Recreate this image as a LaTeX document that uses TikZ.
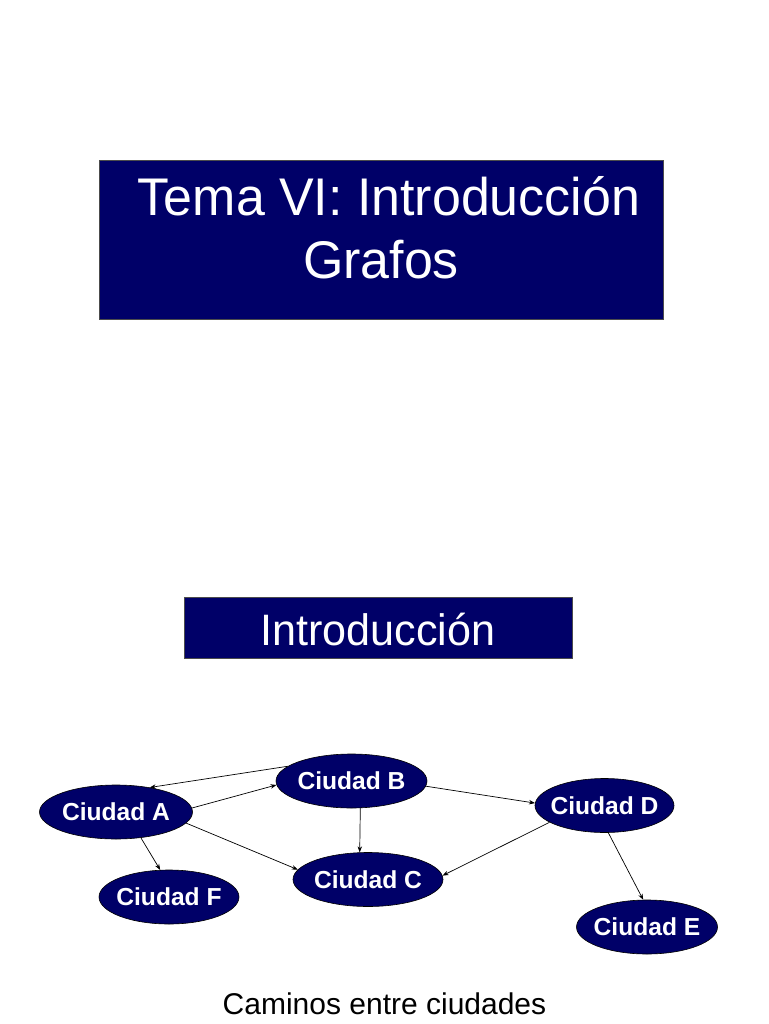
\documentclass[tikz,border=0pt]{standalone}
\usepackage{fontspec}
\setmainfont{Liberation Sans}
\newfontfamily\titlefont[FakeStretch=0.98]{Liberation Sans}
\usetikzlibrary{shapes.geometric, positioning, arrows.meta}
\definecolor{navy}{RGB}{0,0,104}
\tikzset{
    >={Stealth[length=6pt, width=4.5pt]}, % small sharp arrow heads
    banner/.style={draw=black!70, line width=0.6pt, fill=navy, inner sep=0pt},
    bannertext/.style={text=white, anchor=base, inner sep=0pt, font=\titlefont},
    ciudad/.style={ellipse, draw=black, line width=0.6pt, fill=navy, text=white, inner xsep=-6pt, inner ysep=0pt,
        minimum height=54pt, font=\bfseries\fontsize{24.6}{28}\selectfont},
    camino/.style={->, line width=0.7pt},
}
\begin{document}
\begin{tikzpicture}[x=1pt, y=-1pt]
    \useasboundingbox (0,0) rectangle (768,1024);
    % title slide
    \node[banner, minimum width=564pt, minimum height=159pt] (tema) at (381,239.5) {};
    \node[bannertext, font=\titlefont\fontsize{53}{60}\selectfont] (linea1) at (389,215) {Tema VI: Introducción};
    \node[bannertext, font=\titlefont\fontsize{53}{60}\selectfont] (linea2) at (381,278) {Grafos};
    % second slide
    \node[banner, minimum width=388pt, minimum height=61pt] (intro) at (378,627.5) {};
    \node[bannertext, font=\titlefont\fontsize{44}{50}\selectfont] (introtxt) at (378,645) {Introducción};
    % the cities
    \node[ciudad, minimum width=153pt] (A) at (116,812) {Ciudad A};
    \node[ciudad, minimum width=151pt] (B) at (351.5,781) {Ciudad B};
    \node[ciudad, minimum width=150pt] (C) at (368,879.5) {Ciudad C};
    \node[ciudad, minimum width=139pt] (D) at (604.5,805.5) {Ciudad D};
    \node[ciudad, minimum width=141pt] (E) at (647,927) {Ciudad E};
    \node[ciudad, minimum width=140pt] (F) at (169,897) {Ciudad F};
    % roads
    \draw[camino] (B.167) -- (A.36);
    \draw[camino] (A.3) -- (B.183);
    \draw[camino] (A.351) -- (C.172);
    \draw[camino] (A.314) -- (F.108);
    \draw[camino] (B.288) -- (C.107);
    \draw[camino] (B.356) -- (D.178);
    \draw[camino] (D.197) -- (C.3);
    \draw[camino] (D.278) -- (E.98);
    \node[anchor=base, inner sep=0pt, font=\fontsize{30}{34}\selectfont] (pie) at (384.5,1014) {Caminos entre ciudades};
\end{tikzpicture}
\end{document}
